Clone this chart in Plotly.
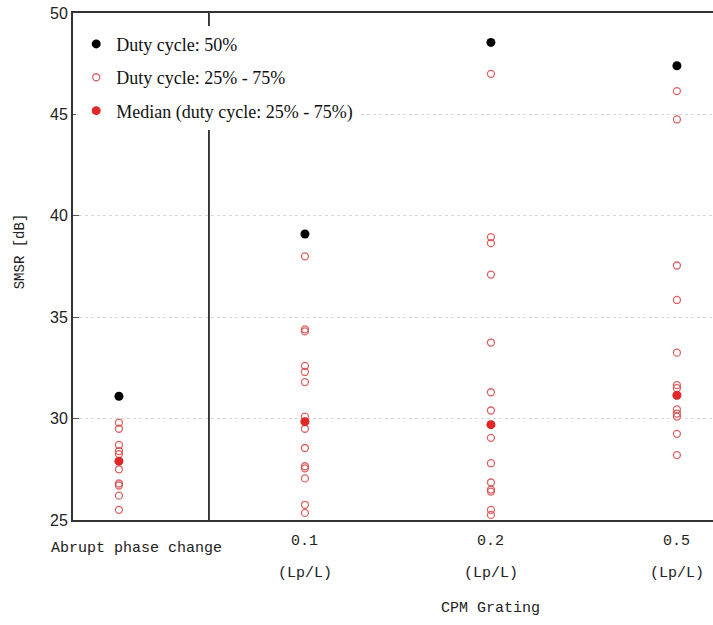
import plotly.graph_objects as go

categories = ["Abrupt phase change", "0.1", "0.2", "0.5"]
cat_pos = [0, 1, 2, 3]

duty50 = [31.1, 39.1, 48.55, 47.4]

duty_range = [
    [29.8, 29.5, 28.7, 28.4, 28.25, 27.9, 27.5, 26.8, 26.7, 26.2, 25.5],
    [38.0, 34.4, 34.3, 32.6, 32.3, 31.8, 30.1, 29.85, 29.5, 28.55, 27.65, 27.55, 27.05, 25.75, 25.35],
    [47.0, 38.95, 38.65, 37.1, 33.75, 31.3, 30.4, 29.7, 29.05, 27.8, 26.85, 26.5, 26.4, 25.5, 25.25],
    [46.15, 44.75, 37.55, 35.85, 33.25, 31.65, 31.5, 31.15, 30.45, 30.25, 30.1, 29.25, 28.2],
]

medians = [27.9, 29.85, 29.7, 31.15]

sub_labels = ["", "(Lp/L)", "(Lp/L)", "(Lp/L)"]

divider_x = 0.484

fig = go.Figure()

fig.add_trace(go.Scatter(
    x=cat_pos, y=duty50, mode="markers", name="Duty cycle: 50%",
    legendgroup="a",
    marker=dict(color="black", size=9, symbol="circle"),
))

xs, ys = [], []
for p, vals in zip(cat_pos, duty_range):
    xs += [p] * len(vals)
    ys += vals
fig.add_trace(go.Scatter(
    x=xs, y=ys, mode="markers", name="Duty cycle: 25% - 75%",
    legendgroup="b",
    marker=dict(symbol="circle-open", size=7, color="rgba(215,70,70,0.85)",
                line=dict(width=1.3, color="rgba(215,70,70,0.85)")),
))

fig.add_trace(go.Scatter(
    x=cat_pos, y=medians, mode="markers", name="Median (duty cycle: 25% - 75%)",
    legendgroup="c",
    marker=dict(color="#e02828", size=9, symbol="circle"),
))

fig.add_shape(type="line", xref="x", yref="paper", x0=divider_x, x1=divider_x,
              y0=0, y1=1, line=dict(color="black", width=1.5), layer="below")

label_font = dict(family="Liberation Mono", size=15, color="#222")
for i, (p, t) in enumerate(zip(cat_pos, categories)):
    fig.add_annotation(x=p, y=0, xref="x", yref="paper", text=t, showarrow=False,
                       yshift=-(548 - 520) if i == 0 else -(541 - 520),
                       xshift=18 if i == 0 else 0,
                       yanchor="middle", font=label_font)
for p, t in zip(cat_pos, sub_labels):
    if t:
        fig.add_annotation(x=p, y=0, xref="x", yref="paper", text=t, showarrow=False,
                           yshift=-(573 - 520), yanchor="middle", font=label_font)

fig.add_annotation(x=(490 - 73) / 640, y=0, xref="paper", yref="paper", text="CPM Grating",
                   showarrow=False, yshift=-88, yanchor="middle", font=label_font)
fig.add_annotation(x=0, y=0.53, xref="paper", yref="paper", text="SMSR [dB]",
                   showarrow=False, textangle=-90, xshift=-53, xanchor="center",
                   font=dict(family="Liberation Mono", size=14, color="#222"))

fig.update_layout(
    width=713, height=625,
    margin=dict(l=73, r=0, t=13, b=105),
    paper_bgcolor="white", plot_bgcolor="white",
    showlegend=True,
    legend=dict(x=0.005, y=0.975, xanchor="left", yanchor="top",
                bgcolor="white", borderwidth=0, tracegroupgap=7,
                traceorder="grouped",
                font=dict(family="Liberation Serif", size=18, color="#111")),
    xaxis=dict(range=[-0.247, 3.194], tickmode="array", tickvals=cat_pos,
               showticklabels=False, showgrid=False, zeroline=False,
               showline=True, linecolor="#333", linewidth=2, mirror=True,
               ticks=""),
    yaxis=dict(range=[25, 50], tickmode="array", tickvals=[25, 30, 35, 40, 45, 50],
               showgrid=True, gridcolor="#d8d8d8", griddash="dot", gridwidth=1,
               zeroline=False, showline=True, linecolor="#333", linewidth=2,
               ticks="inside", ticklen=6, tickcolor="#555",
               tickfont=dict(family="Liberation Sans", size=16, color="#222")),
)

fig.write_html("out.html")
